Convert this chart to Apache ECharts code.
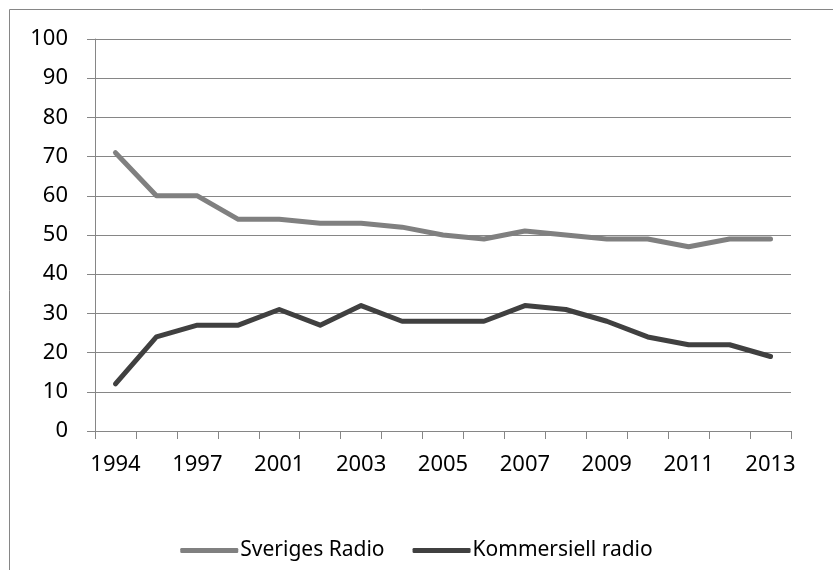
<!DOCTYPE html>
<html>
<head>
<meta charset="utf-8">
<script src="https://cdn.jsdelivr.net/npm/echarts@6/dist/echarts.min.js"></script>
<style>
html,body{margin:0;padding:0;background:#fff;}
#c{width:833px;height:570px;}
</style>
</head>
<body>
<div id="c"></div>
<script>
const categories = ['1994','1995','1997','1999','2001','2002','2003','2004','2005','2006','2007','2008','2009','2010','2011','2012','2013'];
const sverigesRadio = [71,60,60,54,54,53,53,52,50,49,51,50,49,49,47,49,49];
const kommersiellRadio = [12,24,27,27,31,27,32,28,28,28,32,31,28,24,22,22,19];
const yTicks = [0,10,20,30,40,50,60,70,80,90,100];

const FONT = '"Noto Sans", sans-serif';
const chart = echarts.init(document.getElementById('c'), null, {renderer:'canvas'});
chart.setOption({
  animation:false,
  backgroundColor:'#fff',
  graphic:[{
    type:'rect', silent:true, z:-1,
    shape:{x:9.5,y:9.5,width:900,height:700},
    style:{fill:'none',stroke:'#868686',lineWidth:1}
  }],
  grid:{left:95,right:42,top:39,bottom:139,containLabel:false},
  legend:{
    top:535,left:'center',
    itemWidth:58,itemHeight:5,itemGap:28,
    icon:'roundRect',
    textStyle:{fontFamily:FONT,fontSize:21,color:'#000',padding:[0,0,0,-3]},
    data:['Sveriges Radio','Kommersiell radio']
  },
  xAxis:{
    type:'category',
    data:categories,
    boundaryGap:true,
    axisLine:{lineStyle:{color:'#868686',width:1}},
    axisTick:{show:true,interval:0,length:8,lineStyle:{color:'#868686'}},
    axisLabel:{interval:1,margin:23,fontFamily:FONT,fontSize:22,color:'#000'},
    splitLine:{show:false}
  },
  yAxis:{
    type:'value',
    min:yTicks[0],max:yTicks[yTicks.length-1],interval:10,
    axisLine:{show:true,lineStyle:{color:'#868686',width:1}},
    axisTick:{show:true,length:8,lineStyle:{color:'#868686'}},
    axisLabel:{margin:27,fontFamily:FONT,fontSize:22,color:'#000'},
    splitLine:{show:true,lineStyle:{color:'#868686',width:1}}
  },
  series:[
    {name:'Sveriges Radio',type:'line',data:sverigesRadio,showSymbol:false,symbol:'none',
     lineStyle:{color:'#808080',width:5,cap:'round',join:'round'},itemStyle:{color:'#808080'}},
    {name:'Kommersiell radio',type:'line',data:kommersiellRadio,showSymbol:false,symbol:'none',
     lineStyle:{color:'#404040',width:5,cap:'round',join:'round'},itemStyle:{color:'#404040'}}
  ]
});
</script>
</body>
</html>
